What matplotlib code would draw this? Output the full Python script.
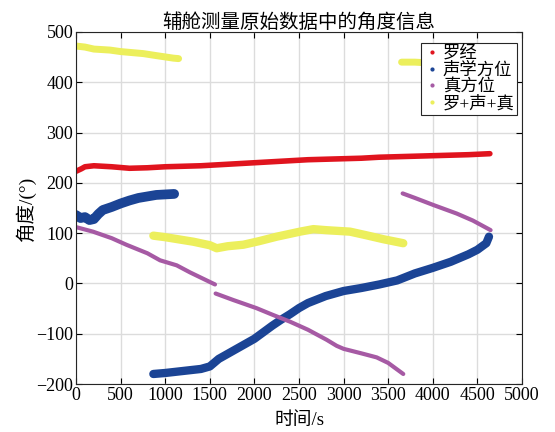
import matplotlib
matplotlib.use('Agg')
import matplotlib.pyplot as plt
from matplotlib.lines import Line2D

plt.rcParams['font.family'] = ['Liberation Serif', 'Noto Sans CJK SC']
plt.rcParams['axes.unicode_minus'] = True

# 罗经
t_red = [0, 60, 100, 200, 400, 600, 800, 1000, 1200, 1400, 1600, 1800, 2000, 2200,
         2400, 2600, 2800, 3000, 3200, 3400, 3600, 3800, 4000, 4200, 4400, 4640]
v_red = [223, 228, 232, 234, 232, 229, 230, 232, 233, 234, 236, 238, 240, 242,
         244, 246, 247, 248, 249, 251, 252, 253, 254, 255, 256, 258]

# 声学方位 (two branches)
t_blue1 = [0, 50, 100, 150, 200, 250, 300, 400, 500, 600, 700, 800, 900, 1000, 1100]
v_blue1 = [136, 130, 132, 126, 128, 138, 146, 152, 159, 165, 170, 173, 176, 177, 178]
t_blue2 = [867, 1000, 1200, 1400, 1500, 1600, 1800, 2000, 2100, 2200, 2300, 2400,
           2500, 2600, 2800, 3000, 3200, 3400, 3600, 3800, 4000, 4200, 4400, 4500,
           4600, 4630]
v_blue2 = [-180, -178, -174, -170, -165, -150, -130, -110, -97, -84, -72, -61,
           -49, -39, -25, -15, -9, -2, 6, 20, 31, 43, 58, 67, 80, 93]

# 真方位 (three branches)
t_mag1 = [0, 190, 400, 564, 800, 942, 1129, 1278, 1558]
v_mag1 = [112, 103, 90, 77, 60, 46, 36, 22, -2]
t_mag2 = [1565, 1764, 2022, 2200, 2399, 2600, 2810, 2922, 3000, 3200, 3371, 3500, 3669]
v_mag2 = [-20, -33, -49, -62, -76, -92, -112, -124, -130, -139, -147, -158, -180]
t_mag3 = [3662, 3800, 4006, 4268, 4450, 4648]
v_mag3 = [179, 170, 156, 139, 125, 106]

# 罗+声+真 (three branches)
t_yel1 = [0, 100, 200, 381, 500, 754, 900, 1090, 1150]
v_yel1 = [472, 470, 466, 464, 461, 457, 453, 448, 447]
t_yel2 = [867, 1000, 1315, 1500, 1577, 1700, 1876, 2050, 2250, 2511, 2661, 2800,
          3072, 3250, 3445, 3669]
v_yel2 = [95, 92, 83, 76, 70, 74, 77, 84, 93, 103, 108, 106, 103, 96, 88, 80]
t_yel3 = [3650, 3800, 4000, 4300, 4640]
v_yel3 = [440, 440, 438, 436, 434]

labels = ['罗经', '声学方位', '真方位', '罗+声+真']
c_red = '#e0141e'
c_blue = '#1b4495'
c_mag = '#a65aa4'
c_yel = '#ecef5c'

fig = plt.figure(figsize=(5.55, 4.32), dpi=100)
ax = fig.add_axes([0.137, 0.111, 0.8035, 0.815])

kw = dict(solid_capstyle='round', solid_joinstyle='round')
ax.plot(t_yel1, v_yel1, color=c_yel, lw=5, **kw)
ax.plot(t_yel2, v_yel2, color=c_yel, lw=6, **kw)
ax.plot(t_yel3, v_yel3, color=c_yel, lw=5, **kw)
ax.plot(t_red, v_red, color=c_red, lw=4, **kw)
ax.plot(t_blue1, v_blue1, color=c_blue, lw=7, **kw)
ax.plot(t_blue2, v_blue2, color=c_blue, lw=6, **kw)
ax.plot(t_mag1, v_mag1, color=c_mag, lw=3, **kw)
ax.plot(t_mag2, v_mag2, color=c_mag, lw=3, **kw)
ax.plot(t_mag3, v_mag3, color=c_mag, lw=3, **kw)

ax.set_xlim(0, 5000)
ax.set_ylim(-200, 500)
ax.set_xticks(range(0, 5001, 500))
ax.set_yticks(range(-200, 501, 100))
ax.tick_params(direction='in', top=True, right=True, labelsize=13, length=4, pad=2)
ax.grid(True, color='#dcdcdc', linewidth=1)
ax.set_axisbelow(True)
for s in ax.spines.values():
    s.set_color('#262626')

ax.set_title('辅舱测量原始数据中的角度信息', fontsize=14, pad=3)
ax.set_xlabel('时间/s', fontsize=13.5, labelpad=6)
ax.set_ylabel('角度/(°)', fontsize=14, labelpad=0)

handles = [Line2D([], [], color=c, marker='.', ls='none', markersize=4)
           for c in [c_red, c_blue, c_mag, c_yel]]
leg = ax.legend(handles, labels, loc='upper right', bbox_to_anchor=(0.989, 0.968),
                fontsize=12.5, frameon=True, fancybox=False, framealpha=1,
                edgecolor='#262626', handletextpad=0.1, handlelength=1.0,
                borderpad=0.15, labelspacing=0.02, borderaxespad=0)
leg.get_frame().set_linewidth(0.8)

fig.savefig('out.png', dpi=100)
